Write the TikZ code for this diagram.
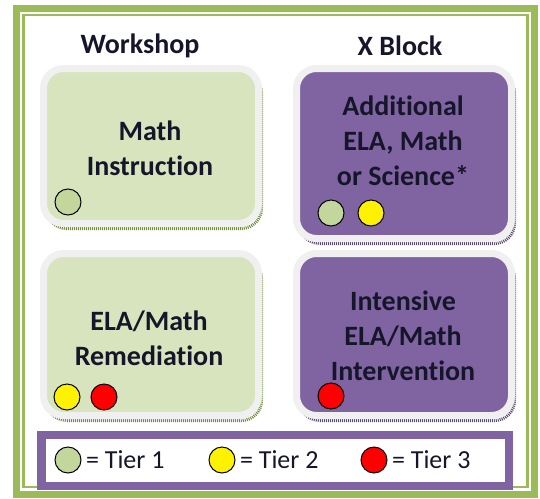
\documentclass[tikz,border=0pt]{standalone}
\usepackage{fontspec}
\setmainfont{Carlito}[Ligatures=NoCommon]
\usetikzlibrary{positioning,shadows}
\definecolor{framegreen}{HTML}{9BBB59}
\definecolor{boxgreen}{HTML}{D7E4BD}
\definecolor{boxpurple}{HTML}{8064A2}
\definecolor{tiergreen}{HTML}{C3D69B}
\definecolor{edgegray}{HTML}{F0F0F0}
\definecolor{shadegreen}{HTML}{6E8A3A}
\definecolor{shadepurple}{HTML}{5A4A6E}
\definecolor{inkdark}{HTML}{16162A}

\begin{document}
\begin{tikzpicture}[x=1pt,y=-1pt,
    tile/.style={rounded corners=20pt, draw=edgegray, line width=7pt,
      minimum width=215pt, inner sep=0pt},
    greentile/.style={tile, fill=boxgreen, minimum height=#1,
      general shadow={shadow xshift=3pt, shadow yshift=-5pt, fill=none,
        draw=shadegreen, line width=3pt, dash pattern=on 1pt off 1pt}},
    purpletile/.style={tile, fill=boxpurple, minimum height=#1,
      general shadow={shadow xshift=3pt, shadow yshift=-5pt, fill=none,
        draw=shadepurple, line width=3pt, dash pattern=on 1pt off 1pt}},
    tiletext/.style={align=center, text=inkdark,
      font=\fontsize{28}{35}\selectfont\bfseries},
    heading/.style={text=inkdark, font=\fontsize{28}{30}\selectfont\bfseries},
    tier/.style={circle, draw=black, line width=1pt, minimum size=26pt,
      inner sep=0pt, fill=#1},
    keytext/.style={right=1pt of #1, text=inkdark,
      font=\fontsize{26}{30}\selectfont}]
  \useasboundingbox (0,0) rectangle (540,498);

  % double green frame
  \draw[framegreen, line width=7pt] (16.5,8) rectangle (534.5,494);
  \draw[framegreen, line width=2.5pt] (23.5,15) rectangle (527.5,487);

  % column headings
  \node[heading] (workshop) at (140,46) {Workshop};
  \node[heading] (xblock) at (400,46) {X Block};

  % the four tiles
  \node[greentile=155pt] (math) at (151,146) {};
  \node[purpletile=170pt] (extra) at (404,153.5) {};
  \node[greentile=162pt] (remed) at (151,334.5) {};
  \node[purpletile=162pt] (inten) at (404,334.5) {};

  \node[tiletext] (mathtext) at (150,148) {Math\\Instruction};
  \node[tiletext] (extratext) at (403,141) {Additional\\ELA, Math\\or Science*};
  \node[tiletext] (remedtext) at (149,338) {ELA/Math\\Remediation};
  \node[tiletext] (intentext) at (403,336) {Intensive\\ELA/Math\\Intervention};

  % tier dots in the tiles
  \node[tier=tiergreen] (m1) at (68,202) {};
  \node[tier=tiergreen] (e1) at (331,213) {};
  \node[tier=yellow] (e2) at (371,213) {};
  \node[tier=yellow] (r2) at (67,397) {};
  \node[tier=red] (r3) at (104,397) {};
  \node[tier=red] (i3) at (331,396) {};

  % legend
  \node[draw=boxpurple, line width=8.5pt, fill=white, minimum width=467.5pt,
    minimum height=51pt, inner sep=0pt] (key) at (275.25,460.5) {};
  \node[tier=tiergreen] (k1) at (68,460) {};
  \node[tier=yellow] (k2) at (222,460) {};
  \node[tier=red] (k3) at (374,460) {};
  \node[keytext=k1] (k1text) {= Tier 1};
  \node[keytext=k2] (k2text) {= Tier 2};
  \node[keytext=k3] (k3text) {= Tier 3};
\end{tikzpicture}
\end{document}
